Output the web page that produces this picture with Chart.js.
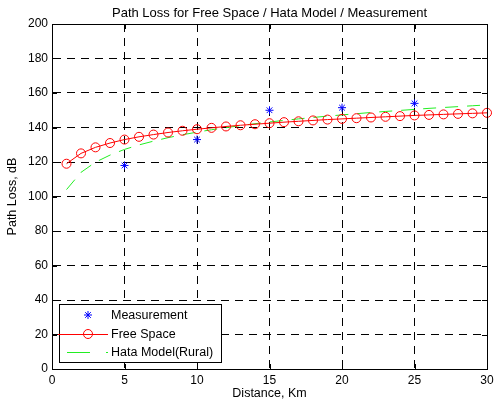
<!DOCTYPE html>
<html>
<head>
<meta charset="utf-8">
<title>Path Loss</title>
<script src="https://cdn.jsdelivr.net/npm/chart.js@4"></script>
<style>
    html, body { margin: 0; padding: 0; background: #fff; }
    #wrap { width: 494px; height: 404px; }
</style>
</head>
<body>
<div id="wrap"><canvas id="lossChart" width="494" height="404"></canvas></div>
<script>
// Values
const distance = [1, 2, 3, 4, 5, 6, 7, 8, 9, 10, 11, 12, 13, 14, 15,
    16, 17, 18, 19, 20, 21, 22, 23, 24, 25, 26, 27, 28, 29, 30];
const freeSpaceLoss = [119.0, 125.0, 128.5, 131.0, 133.0, 134.6, 135.9, 137.1, 138.1, 139.0,
    139.8, 140.6, 141.3, 141.9, 142.5, 143.1, 143.6, 144.1, 144.6, 145.0,
    145.4, 145.8, 146.2, 146.6, 147.0, 147.3, 147.6, 147.9, 148.2, 148.5];
const hataLoss = [104.0, 114.0, 119.9, 124.0, 127.3, 129.9, 132.1, 134.1, 135.8, 137.3,
    138.7, 139.9, 141.1, 142.2, 143.2, 144.1, 145.0, 145.8, 146.6, 147.3,
    148.0, 148.7, 149.3, 149.9, 150.5, 151.1, 151.6, 152.1, 152.6, 153.1];
const measDistance = [5, 10, 15, 20, 25];
const measLoss = [118, 133, 150, 151.5, 154];

const xTickStep = 5;
const yTickStep = 20;
const chartTitle = 'Path Loss for Free Space / Hata Model / Measurement';
const xLabel = 'Distance, Km';
const yLabel = 'Path Loss, dB';
const legendLabels = ['Measurement', 'Free Space', 'Hata Model(Rural)'];

const FONT = '"Liberation Sans", Arial, Helvetica, sans-serif';
const toPoints = (xs, ys) => xs.map((x, i) => ({ x: x, y: ys[i] }));

// Box, inward ticks, title and legend like a MATLAB figure
const matlabFrame = {
    id: 'matlabFrame',
    afterDraw(chart) {
        const ctx = chart.ctx;
        const area = chart.chartArea;
        const xs = chart.scales.x;
        const ys = chart.scales.y;
        ctx.save();

        // axes box
        ctx.strokeStyle = '#000';
        ctx.lineWidth = 1;
        ctx.setLineDash([]);
        ctx.strokeRect(Math.round(area.left) + 0.5, Math.round(area.top) + 0.5,
            Math.round(area.right - area.left), Math.round(area.bottom - area.top));

        // inward tick marks
        const tl = 5;
        ctx.beginPath();
        xs.ticks.forEach(t => {
            const px = Math.round(xs.getPixelForValue(t.value)) + 0.5;
            ctx.moveTo(px, area.bottom); ctx.lineTo(px, area.bottom - tl);
            ctx.moveTo(px, area.top); ctx.lineTo(px, area.top + tl);
        });
        ys.ticks.forEach(t => {
            const py = Math.round(ys.getPixelForValue(t.value)) + 0.5;
            ctx.moveTo(area.left, py); ctx.lineTo(area.left + tl, py);
            ctx.moveTo(area.right, py); ctx.lineTo(area.right - tl, py);
        });
        ctx.stroke();

        // title
        ctx.fillStyle = '#000';
        ctx.font = '13px ' + FONT;
        ctx.textAlign = 'center';
        ctx.textBaseline = 'middle';
        ctx.fillText(chartTitle, (area.left + area.right) / 2, 13);

        // legend box
        const lx = 59, ly = 304, lw = 162, lh = 58;
        ctx.fillStyle = '#fff';
        ctx.fillRect(lx, ly, lw, lh);
        ctx.strokeStyle = '#000';
        ctx.strokeRect(lx + 0.5, ly + 0.5, lw, lh);

        const rows = [315, 334, 352];
        const ds = chart.data.datasets;
        const symX = 88;

        // Measurement: star only
        ctx.strokeStyle = ds[0].borderColor;
        ctx.lineWidth = 1;
        Chart.helpers.drawPoint(ctx, { pointStyle: 'star', radius: 4, borderWidth: 1 }, symX, rows[0]);

        // Free Space: line with circle
        ctx.strokeStyle = ds[1].borderColor;
        ctx.beginPath();
        ctx.moveTo(58, rows[1] + 0.5); ctx.lineTo(108, rows[1] + 0.5);
        ctx.stroke();
        ctx.beginPath();
        ctx.arc(symX, rows[1], 4.5, 0, Math.PI * 2);
        ctx.stroke();

        // Hata: dashed green
        ctx.strokeStyle = ds[2].borderColor;
        ctx.setLineDash([23, 16]);
        ctx.beginPath();
        ctx.moveTo(67, rows[2] + 0.5); ctx.lineTo(108, rows[2] + 0.5);
        ctx.stroke();
        ctx.setLineDash([]);

        ctx.fillStyle = '#000';
        ctx.font = '12.5px ' + FONT;
        ctx.textAlign = 'left';
        legendLabels.forEach((txt, i) => ctx.fillText(txt, 111, rows[i] + 1));

        ctx.restore();
    }
};

const ctx = document.getElementById('lossChart').getContext('2d');
new Chart(ctx, {
    type: 'line',
    data: {
        datasets: [
            {
                label: legendLabels[0],
                data: toPoints(measDistance, measLoss),
                showLine: false,
                borderColor: '#0000ff',
                backgroundColor: '#0000ff',
                pointStyle: 'star',
                pointRadius: 4,
                pointBorderWidth: 1,
                clip: false
            },
            {
                label: legendLabels[1],
                data: toPoints(distance, freeSpaceLoss),
                borderColor: '#ff0000',
                backgroundColor: 'rgba(0,0,0,0)',
                borderWidth: 1,
                pointStyle: 'circle',
                pointRadius: 4.5,
                pointBorderWidth: 1,
                tension: 0,
                clip: false
            },
            {
                label: legendLabels[2],
                data: toPoints(distance, hataLoss),
                borderColor: '#22ee22',
                borderWidth: 1,
                borderDash: [13, 9],
                pointRadius: 0,
                tension: 0
            }
        ]
    },
    options: {
        responsive: false,
        animation: false,
        layout: { autoPadding: false, padding: { top: 24, right: 7, left: 0, bottom: 0 } },
        plugins: {
            legend: { display: false },
            title: { display: false },
            tooltip: { enabled: false }
        },
        scales: {
            x: {
                type: 'linear',
                min: 0,
                max: 30,
                afterFit: s => { s.height = 35; s.paddingLeft = 0; s.paddingRight = 0; },
                ticks: {
                    stepSize: xTickStep,
                    color: '#000',
                    padding: 4,
                    maxRotation: 0,
                    font: { family: FONT, size: 12 }
                },
                grid: { color: '#000', lineWidth: 1, drawTicks: false },
                border: { color: '#000', dash: [8, 6] },
                title: {
                    display: true,
                    text: xLabel,
                    color: '#000',
                    padding: { top: 0, bottom: 3 },
                    font: { family: FONT, size: 12.5 }
                }
            },
            y: {
                type: 'linear',
                min: 0,
                max: 200,
                afterFit: s => { s.width = 52; s.paddingTop = 0; s.paddingBottom = 0; },
                ticks: {
                    stepSize: yTickStep,
                    color: '#000',
                    padding: 4,
                    font: { family: FONT, size: 12 }
                },
                grid: { color: '#000', lineWidth: 1, drawTicks: false },
                border: { color: '#000', dash: [8, 6] },
                title: {
                    display: true,
                    text: yLabel,
                    color: '#000',
                    padding: { top: 5, bottom: 0 },
                    font: { family: FONT, size: 12.5 }
                }
            }
        }
    },
    plugins: [matlabFrame]
});
</script>
</body>
</html>
